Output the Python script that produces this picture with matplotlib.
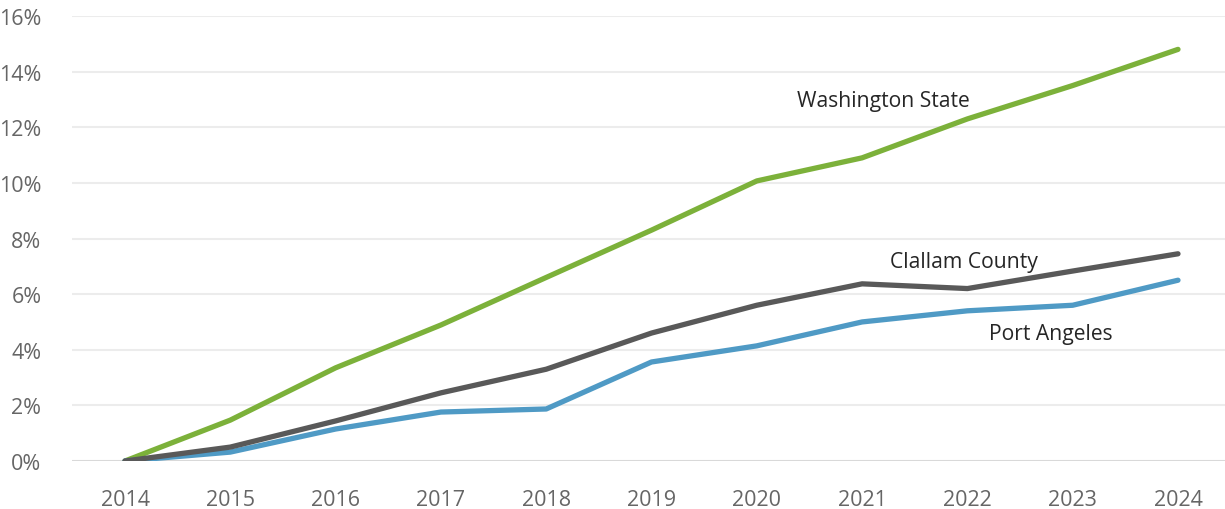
import matplotlib
matplotlib.use("Agg")
import matplotlib.pyplot as plt

years = [2014, 2015, 2016, 2017, 2018, 2019, 2020, 2021, 2022, 2023, 2024]
washington = [0.0, 1.47, 3.35, 4.89, 6.6, 8.3, 10.07, 10.9, 12.3, 13.5, 14.8]
clallam = [0.0, 0.5, 1.44, 2.45, 3.3, 4.6, 5.6, 6.37, 6.2, 6.83, 7.45]
port_angeles = [0.0, 0.32, 1.15, 1.76, 1.87, 3.56, 4.14, 5.0, 5.4, 5.6, 6.5]
yticks = [0, 2, 4, 6, 8, 10, 12, 14, 16]

plt.rcParams['font.family'] = ['Open Sans', 'DejaVu Sans']

fig = plt.figure(figsize=(12.25, 5.1), dpi=100)
ax = fig.add_axes([72/1225, 48/510, 1 - 72/1225, (462-17)/510])

lw = 3.8
ax.plot(years, washington, color='#7cb13a', lw=lw, solid_capstyle='round', zorder=3)
ax.plot(years, port_angeles, color='#4f9ac5', lw=lw, solid_capstyle='round', zorder=4)
ax.plot(years, clallam, color='#595959', lw=lw, solid_capstyle='round', zorder=5)

ax.set_ylim(0, 16)
ax.set_xlim(2014 - 53/105.3, 2024 + 47/105.3)
ax.set_yticks(yticks)
ax.set_yticklabels([f"{v}%" for v in yticks])
ax.set_xticks(years)
ax.set_xticklabels([str(y) for y in years])

for v in yticks:
    ax.axhline(v, color='#ececec' if v else '#d9d9d9', lw=1.5, zorder=1)

for s in ax.spines.values():
    s.set_visible(False)
ax.tick_params(axis='both', length=0, labelsize=15.5, labelcolor='#666666')
ax.tick_params(axis='y', pad=22)
ax.tick_params(axis='x', pad=20)

ax.text(2021.2, 12.95, "Washington State", fontsize=15.2, color='#262626', ha='center', va='center')
ax.text(2021.97, 7.19, "Clallam County", fontsize=15.2, color='#262626', ha='center', va='center')
ax.text(2022.79, 4.57, "Port Angeles", fontsize=15.2, color='#262626', ha='center', va='center')

fig.savefig("out.png", dpi=100)
